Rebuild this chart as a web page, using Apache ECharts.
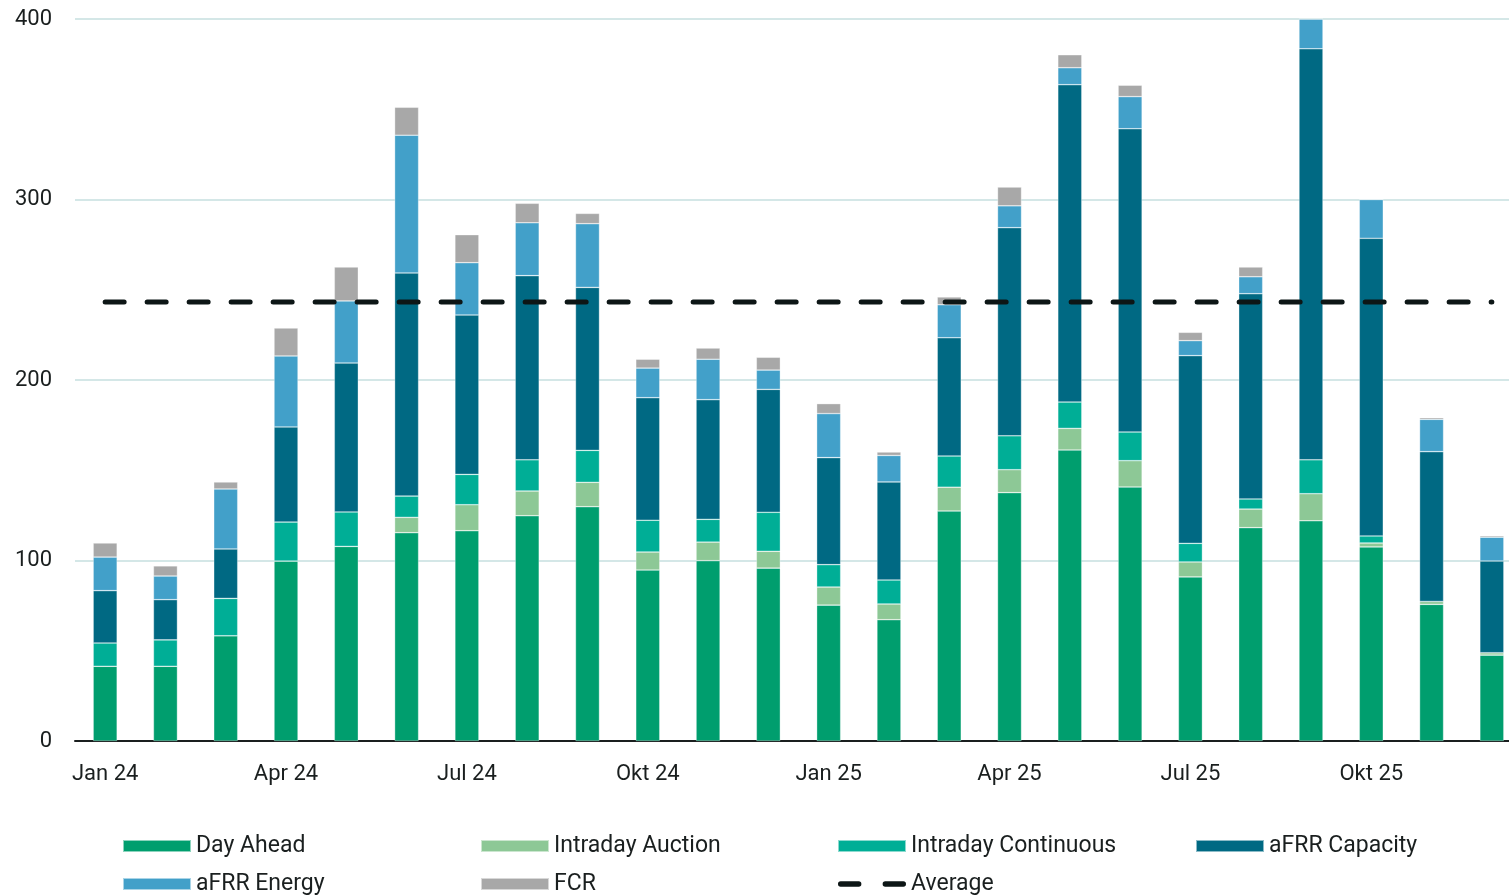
<!DOCTYPE html>
<html>
<head>
<meta charset="utf-8">
<script src="https://cdn.jsdelivr.net/npm/echarts@6/dist/echarts.min.js"></script>
<style>
  html, body { margin: 0; padding: 0; background: #fff; }
  #main { width: 1509px; height: 895px; }
</style>
</head>
<body>
<div id="main"></div>
<script>
var months = ['Jan 24', 'Feb 24', 'Mär 24', 'Apr 24', 'Mai 24', 'Jun 24', 'Jul 24', 'Aug 24', 'Sep 24', 'Okt 24', 'Nov 24', 'Dez 24',
              'Jan 25', 'Feb 25', 'Mär 25', 'Apr 25', 'Mai 25', 'Jun 25', 'Jul 25', 'Aug 25', 'Sep 25', 'Okt 25', 'Nov 25', 'Dez 25'];

var dayAhead      = [41.4, 41.4, 58.3, 99.7, 107.8, 115.4, 116.5, 124.8, 129.8, 94.7, 99.9, 95.8, 75.3, 67.2, 127.4, 137.6, 161.2, 140.7, 90.9, 118.2, 122.0, 107.5, 75.7, 47.6];
var idAuction     = [0, 0, 0, 0, 0, 8.5, 14.4, 13.7, 13.5, 10.0, 10.3, 9.3, 10.0, 8.7, 13.2, 12.7, 12.0, 14.6, 8.3, 10.3, 15.0, 2.2, 1.6, 1.3];
var idContinuous  = [12.9, 14.6, 20.7, 21.6, 19.1, 11.8, 16.8, 17.3, 17.7, 17.6, 12.6, 21.6, 12.4, 13.3, 17.3, 18.8, 14.6, 15.9, 10.3, 5.6, 18.8, 3.9, -1.0, 0];
var afrrCapacity  = [29.0, 22.3, 27.4, 52.7, 82.5, 123.6, 88.3, 102.0, 90.3, 67.9, 66.3, 68.1, 59.3, 54.3, 65.5, 115.3, 175.8, 168.0, 104.0, 113.7, 227.7, 164.9, 83.0, 50.8];
var afrrEnergy    = [18.6, 13.1, 33.2, 39.3, 34.4, 76.3, 29.0, 29.3, 35.3, 16.4, 22.4, 10.7, 24.4, 14.7, 18.3, 12.1, 9.4, 17.8, 8.3, 9.4, 16.5, 21.5, 17.9, 13.2];
var fcr           = [7.8, 5.6, 3.9, 15.5, 18.8, 15.5, 15.5, 10.8, 5.7, 4.9, 6.2, 7.1, 5.5, 1.9, 4.3, 10.4, 7.2, 6.3, 4.6, 5.4, 0, 0, 0.9, 0.8];
var averageValue  = 243.2;
var average       = months.map(function () { return averageValue; });

var yTicks = [0, 100, 200, 300, 400];

var textColor = '#1a1f1f';
var fontFamily = 'Roboto';

// two rounded dashes for the "Average" legend entry
var dashIcon = 'path://M2.5,0 H19.5 A2.5,2.5 0 0 1 19.5,5 H2.5 A2.5,2.5 0 0 1 2.5,0 Z ' +
               'M44.5,0 H61.5 A2.5,2.5 0 0 1 61.5,5 H44.5 A2.5,2.5 0 0 1 44.5,0 Z';

var chartDom = document.getElementById('main');
var myChart = echarts.init(chartDom);
var option;

function barSeries(name, data, color) {
  return {
    name: name,
    type: 'bar',
    stack: 'total',
    barWidth: 24,
    data: data,
    itemStyle: {
      color: color,
      borderColor: 'rgba(255,255,255,0.55)',
      borderWidth: 0.6
    },
    emphasis: { disabled: true }
  };
}

// one legend per column, two rows each
function legendColumn(left, names) {
  return {
    orient: 'vertical',
    left: left,
    top: 833,
    height: 120,
    padding: 0,
    itemWidth: 68,
    itemHeight: 12,
    itemGap: 12,
    data: names,
    textStyle: {
      color: textColor,
      fontFamily: fontFamily,
      fontSize: 23,
      lineHeight: 26
    }
  };
}

option = {
  animation: false,
  backgroundColor: '#fff',
  grid: {
    left: 75,
    width: 1447,
    top: 19,
    bottom: 154,
    containLabel: false,
    outerBoundsMode: 'none'
  },
  legend: [
    legendColumn(122, [{ name: 'Day Ahead', icon: 'rect' }, { name: 'aFRR Energy', icon: 'rect' }]),
    legendColumn(480, [{ name: 'Intraday Auction', icon: 'rect' }, { name: 'FCR', icon: 'rect' }]),
    legendColumn(837, [{ name: 'Intraday Continuous', icon: 'rect' }, { name: 'Average', icon: dashIcon }]),
    legendColumn(1195, [{ name: 'aFRR Capacity', icon: 'rect' }])
  ],
  xAxis: {
    type: 'category',
    data: months,
    boundaryGap: true,
    axisLine: { lineStyle: { color: '#1a1f1f', width: 2 } },
    axisTick: { interval: 2, length: 9, lineStyle: { color: '#1a1f1f', width: 2 } },
    axisLabel: {
      interval: 2,
      margin: 22,
      color: textColor,
      fontFamily: fontFamily,
      fontSize: 22
    },
    splitLine: { show: false }
  },
  yAxis: {
    type: 'value',
    min: yTicks[0],
    max: yTicks[yTicks.length - 1],
    interval: 100,
    axisLine: { show: false },
    axisTick: { show: false },
    axisLabel: {
      margin: 23,
      color: textColor,
      fontFamily: fontFamily,
      fontSize: 22
    },
    splitLine: { lineStyle: { color: '#d4e7e7', width: 2 } }
  },
  series: [
    barSeries('Day Ahead', dayAhead, '#009e6e'),
    barSeries('Intraday Auction', idAuction, '#8dc896'),
    barSeries('Intraday Continuous', idContinuous, '#00ae96'),
    barSeries('aFRR Capacity', afrrCapacity, '#006983'),
    barSeries('aFRR Energy', afrrEnergy, '#42a0c9'),
    barSeries('FCR', fcr, '#a8a8a8'),
    {
      name: 'Average',
      type: 'line',
      data: average,
      symbol: 'none',
      z: 5,
      lineStyle: {
        color: '#0d1616',
        width: 5,
        type: [19, 23],
        cap: 'round'
      },
      itemStyle: { color: '#0d1616' },
      emphasis: { disabled: true }
    }
  ]
};

option && myChart.setOption(option);
</script>
</body>
</html>
